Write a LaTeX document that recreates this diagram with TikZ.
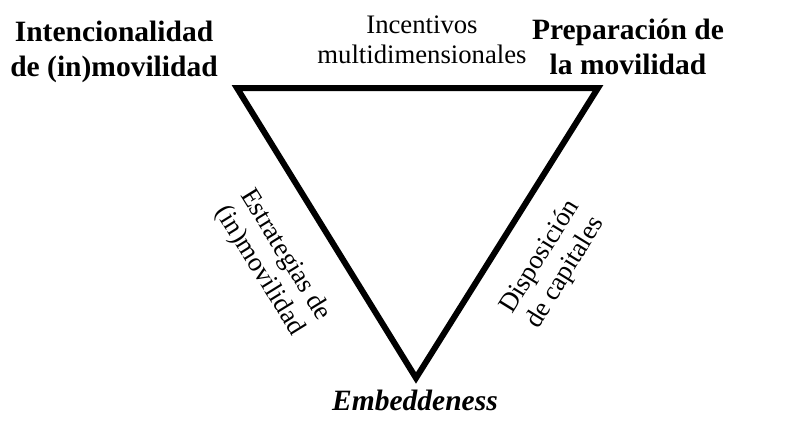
\documentclass[tikz,border=0pt]{standalone}
\usepackage{fontspec}
\setmainfont{Liberation Serif}
\usepackage{tikz}

\begin{document}
\begin{tikzpicture}[x=1pt, y=1pt,
    corner/.style={font=\fontsize{29.5}{35}\selectfont\bfseries, align=center, inner sep=0pt},
    side/.style={font=\fontsize{26.7}{30}\selectfont, align=center, inner sep=0pt}]
            \useasboundingbox (0,0) rectangle (803,-437);

            % Triangle corners
            \coordinate (tl) at (237,-88);
            \coordinate (tr) at (598,-88);
            \coordinate (bt) at (416,-378);

            % Triangle
            \draw[line width=6pt, line join=miter] (tl) -- (tr) -- (bt) -- cycle;

            % Corner labels
            \node[corner] (intencion) at (114,-52) {Intencionalidad\\de (in)movilidad};
            \node[corner] (preparacion) at (628,-47) {Preparación de\\la movilidad};
            \node[corner, font=\fontsize{29.5}{35}\selectfont\bfseries\itshape, anchor=base] (embed) at (415,-410) {Embeddeness};

            % Side labels
            \node[side] (incentivos) at (422,-40) {Incentivos\\multidimensionales};
            \node[side, rotate=-58.3] (estrategias) at (272,-263) {Estrategias de\\(in)movilidad};
            \node[side, rotate=58.3] (disposicion) at (553,-265) {Disposición\\de capitales};
        \end{tikzpicture}
\end{document}
